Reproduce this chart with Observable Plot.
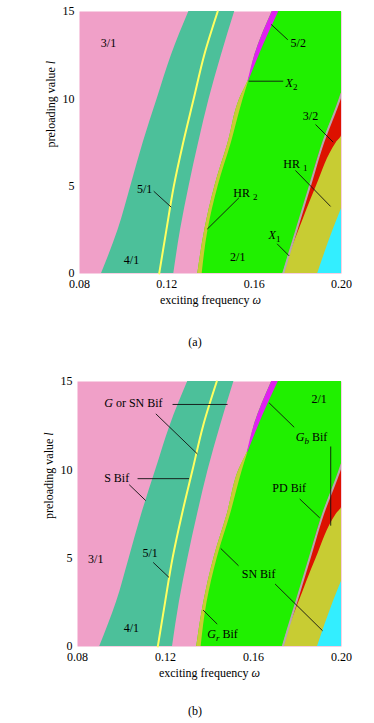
<!DOCTYPE html>
<html>
<head>
<meta charset="utf-8">
<script src="https://cdn.jsdelivr.net/npm/d3@7"></script>
<script src="https://cdn.jsdelivr.net/npm/@observablehq/plot@0.6"></script>
<style>
  body { margin: 0; background: white; font-family: "Liberation Serif", serif; }
  #wrap { position: relative; width: 374px; height: 723px; }
  .pane { position: absolute; left: 0; }
  .pane svg, .pane svg text { font-family: "Liberation Serif", "Times New Roman", serif !important; font-size: 12px; }
  .cap { position: absolute; left: 0; width: 390px; text-align: center; font-size: 12px; line-height: 14px; color: black; }
</style>
</head>
<body>
<div id="wrap">
  <div id="pa" class="pane" style="top:0px"></div>
  <div class="cap" style="top:335px">(a)</div>
  <div id="pb" class="pane" style="top:370px"></div>
  <div class="cap" style="top:704px">(b)</div>
</div>
<script>
// ---- axes ----
const xDomain = [0.08, 0.20];
const yDomain = [0, 15];
const xTicks = [0.08, 0.12, 0.16, 0.20];
const yTicks = [0, 5, 10, 15];
const xTitle = "exciting frequency *ω*";
const yTitle = "preloading value *l*";

// ---- region boundaries (ω as a function of preloading value l) ----
const lGrid     = [0, 2.5, 5, 7.5, 10, 12.5, 15];
const tealLeft  = [0.0901, 0.0977, 0.1035, 0.1092, 0.1156, 0.1221, 0.1301];
const line51    = [0.1165, 0.1198, 0.1232, 0.1275, 0.1323, 0.1371, 0.1433];
const tealRight = [0.1232, 0.1263, 0.1302, 0.1346, 0.1394, 0.1450, 0.1511];

const lBand     = [0, 2.5, 5, 7.5, 10, 11, 12.5, 15];
const bandLeft  = [0.1342, 0.1374, 0.1420, 0.1481, 0.1534, 0.1572, 0.1603, 0.1683];
const bandRight = [0.1362, 0.1389, 0.1435, 0.1496, 0.1550, 0.1575, 0.1623, 0.1713];
const bandSplit = 11; // X2: HR2 strip below, 5/2 above

const lEdge     = [0, 1, 2.5, 5, 7.5, 10, 10.3];
const greyEdge  = [0.1733, 0.1757, 0.1794, 0.1855, 0.1916, 0.1992, 0.2000];

const lRed      = [1, 2.5, 5, 7.5, 7.9, 10, 10.3];
const redLeft   = [0.1757, 0.1794, 0.1855, 0.1916, 0.1929, 0.1992, 0.2000];
const redRight  = [0.1760, 0.1806, 0.1885, 0.1977, 0.2000, 0.2000, 0.2000];

const lCyan     = [0, 2.5, 3.7];
const cyanLeft  = [0.1891, 0.1962, 0.2000];

// ---- annotations ----
const labelsA = [
  {t: "3/1", w: 0.0933, l: 13.19},
  {t: "5/2", w: 0.1802, l: 13.19},
  {t: "*X*_2", w: 0.1771, l: 10.92},
  {t: "3/2", w: 0.1858, l: 8.99},
  {t: "HR _1", w: 0.1789, l: 6.28},
  {t: "5/1", w: 0.1098, l: 4.85},
  {t: "HR _2", w: 0.1560, l: 4.62},
  {t: "*X*_1", w: 0.1693, l: 2.18},
  {t: "4/1", w: 0.1038, l: 0.74},
  {t: "2/1", w: 0.1525, l: 0.93}
];
const leadersA = [
  [0.1678, 14.26, 0.1754, 13.38],
  [0.1575, 11.01, 0.1733, 11.01],
  [0.1881, 8.53, 0.1962, 7.52],
  [0.1789, 5.90, 0.1950, 3.84],
  [0.1140, 4.71, 0.1220, 3.80],
  [0.1530, 4.33, 0.1385, 2.54],
  [0.1705, 1.70, 0.1760, 1.01]
];
const labelsB = [
  {t: "*G* or SN Bif", w: 0.1054, l: 13.77},
  {t: "2/1", w: 0.1898, l: 14.02},
  {t: "*G*_b Bif", w: 0.1864, l: 11.84},
  {t: "S Bif", w: 0.0978, l: 9.52},
  {t: "PD Bif", w: 0.1762, l: 8.95},
  {t: "3/1", w: 0.0883, l: 4.95},
  {t: "5/1", w: 0.1130, l: 5.27},
  {t: "SN Bif", w: 0.1623, l: 4.10},
  {t: "4/1", w: 0.1045, l: 1.04},
  {t: "*G*_r Bif", w: 0.1459, l: 0.70}
];
const leadersB = [
  [0.1232, 13.70, 0.1482, 13.70],
  [0.1156, 13.17, 0.1345, 10.90],
  [0.1671, 13.79, 0.1785, 12.41],
  [0.1951, 11.32, 0.1951, 6.84],
  [0.1073, 9.50, 0.1307, 9.50],
  [0.1035, 9.16, 0.1110, 8.26],
  [0.1810, 8.35, 0.1901, 7.28],
  [0.1144, 4.76, 0.1216, 3.91],
  [0.1532, 4.57, 0.1451, 5.55],
  [0.1698, 3.54, 0.1914, 0.89],
  [0.1435, 1.27, 0.1371, 2.06]
];

// ---- colours ----
const C = {
  pink: "#f0a0c8", teal: "#4cc09a", yellow: "#ffff60", green: "#20f000",
  olive: "#c8cc33", magenta: "#e020f0", red: "#dd1100", cyan: "#33eeff", grey: "#b4a8b0"
};

const zip = (ls, as, bs) => ls.map((l, i) => ({l, a: as[i], b: bs ? bs[i] : xDomain[1]}));

function richText(el, s) {
  const NS = "http://www.w3.org/2000/svg";
  el.textContent = "";
  let italic = false, buf = "", pendingDy = 0;
  const add = (txt, opts = {}) => {
    if (!txt) return;
    const ts = document.createElementNS(NS, "tspan");
    ts.textContent = txt;
    if (opts.italic) ts.setAttribute("font-style", "italic");
    if (opts.size) ts.setAttribute("style", "font-size:" + opts.size + "px");
    let dy = pendingDy + (opts.dy || 0);
    if (dy) ts.setAttribute("dy", dy);
    pendingDy = 0;
    el.appendChild(ts);
  };
  for (let i = 0; i < s.length; i++) {
    const c = s[i];
    if (c === "*") { add(buf, {italic}); buf = ""; italic = !italic; }
    else if (c === "_") {
      add(buf, {italic}); buf = "";
      const n = s[++i];
      add(n, {italic: /[a-z]/i.test(n), size: 9, dy: 3});
      pendingDy = -3;
    } else buf += c;
  }
  add(buf, {italic});
}

function panel(labels, leaders, marginLeft, plotH) {
  const chart = Plot.plot({
    width: 374,
    height: 11 + plotH + 52,
    marginTop: 11,
    marginBottom: 52,
    marginLeft,
    marginRight: 33,
    style: {color: "black", background: "white", overflow: "visible"},
    x: {domain: xDomain, ticks: xTicks, tickFormat: d3.format(".2f"), tickSize: 0, tickPadding: 6, label: null},
    y: {domain: yDomain, ticks: yTicks, tickSize: 0, tickPadding: 5, label: null},
    marks: [
      Plot.frame({fill: C.pink, stroke: "none"}),
      Plot.areaX(zip(lGrid, tealLeft, tealRight), {y: "l", x1: "a", x2: "b", fill: C.teal, curve: "monotone-y"}),
      Plot.line(zip(lGrid, line51), {x: "a", y: "l", stroke: C.yellow, strokeWidth: 2, curve: "monotone-y"}),
      Plot.areaX(zip(lBand, bandLeft), {y: "l", x1: "a", x2: "b", fill: C.green, curve: "monotone-y"}),
      Plot.areaX(zip(lBand, bandLeft, bandRight).filter(d => d.l <= bandSplit), {y: "l", x1: "a", x2: "b", fill: C.olive, curve: "monotone-y"}),
      Plot.areaX(zip(lBand, bandLeft, bandRight).filter(d => d.l >= bandSplit), {y: "l", x1: "a", x2: "b", fill: C.magenta, curve: "monotone-y"}),
      Plot.areaX(zip(lEdge, greyEdge), {y: "l", x1: "a", x2: "b", fill: C.olive, curve: "monotone-y", clip: true}),
      Plot.areaX(zip(lRed, redLeft, redRight), {y: "l", x1: "a", x2: "b", fill: C.red, curve: "monotone-y", clip: true}),
      Plot.areaX(zip(lCyan, cyanLeft), {y: "l", x1: "a", x2: "b", fill: C.cyan, curve: "monotone-y", clip: true}),
      Plot.line(zip(lEdge, greyEdge), {x: "a", y: "l", stroke: C.grey, strokeWidth: 2, curve: "monotone-y", clip: true}),
      Plot.link(leaders, {x1: d => d[0], y1: d => d[1], x2: d => d[2], y2: d => d[3], stroke: "#111", strokeWidth: 0.9}),
      Plot.text(labels, {x: "w", y: "l", text: "t", fill: "black", textAnchor: "middle"}),
      Plot.text([xTitle], {text: d => d, frameAnchor: "bottom", dy: 30, fill: "black"}),
      Plot.text([yTitle], {text: d => d, frameAnchor: "left", dx: -28, dy: 5, rotate: -90, fill: "black"})
    ]
  });
  chart.querySelectorAll('g[aria-label="text"] text').forEach(el => richText(el, el.textContent));
  return chart;
}

document.getElementById("pa").appendChild(panel(labelsA, leadersA, 79, 262));
document.getElementById("pb").appendChild(panel(labelsB, leadersB, 77, 265));
</script>
</body>
</html>
